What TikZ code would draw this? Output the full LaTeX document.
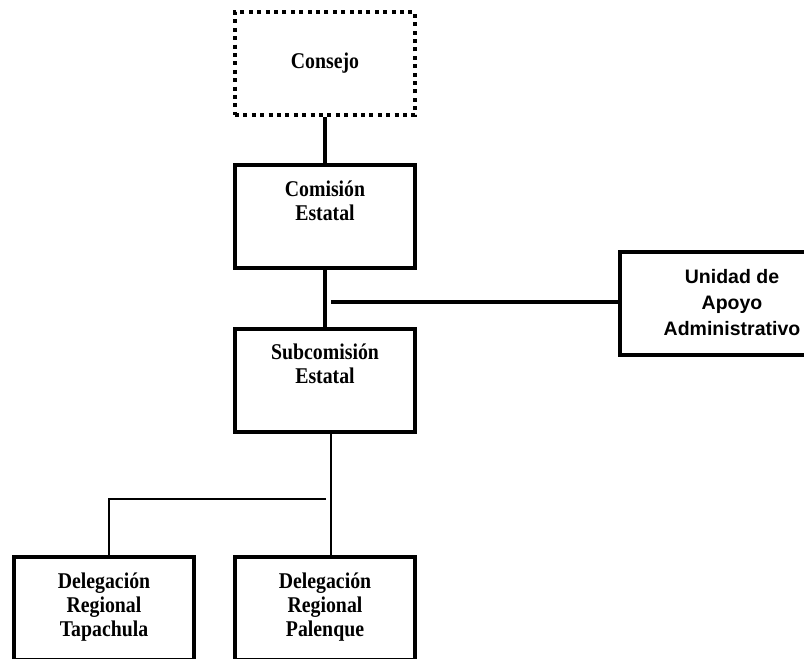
\documentclass[tikz,border=0pt]{standalone}
\usepackage{fontspec}
\setmainfont{Liberation Serif}[FakeStretch=0.88]
\newfontfamily\arialfont{Liberation Sans}
\newcommand{\toptext}[2][180pt]{\parbox[c][103pt][t]{#1}{\centering\rule{0pt}{31pt}#2}}
\begin{document}
\begin{tikzpicture}[x=1pt,y=-1pt,
  orgbox/.style={draw=black,line width=4pt,inner sep=0pt,fill=white,
    font=\fontsize{22.5}{24}\selectfont\bfseries},
  dotbox/.style={orgbox,dash pattern=on 4pt off 4.4pt,minimum width=180pt,minimum height=103pt},
  sansbox/.style={orgbox,font=\arialfont\fontsize{19.5}{26}\selectfont\bfseries},
  thickline/.style={line width=4pt},
  thinline/.style={line width=1.6pt}]
\path[use as bounding box,clip] (0,0) rectangle (804,659);
\fill[white] (0,0) rectangle (804,659);

\node[dotbox] (con) at (325,63.5) {\raisebox{-2pt}{Consejo}};
\node[orgbox] (com) at (325,216.5) {\toptext{Comisión\\Estatal}};
\node[orgbox] (sub) at (325,380) {\toptext{Subcomisión\\Estatal}};
\node[sansbox] (uni) at (732,303.5) {\toptext[224pt]{Unidad de\\Apoyo\\Administrativo}};
\node[orgbox] (tap) at (104,608.5) {\toptext{Delegación\\Regional\\Tapachula}};
\node[orgbox] (pal) at (325,608.5) {\toptext{Delegación\\Regional\\Palenque}};

\draw[thickline] (con.south) -- (com.north);
\draw[thickline] (com.south) -- (sub.north);
\coordinate (hj) at (331,302);
\draw[thickline] (hj) -- (hj -| uni.west);

\coordinate (vj) at (331,499);
\draw[thinline] (vj |- sub.south) -- (vj |- pal.north);
\coordinate (mj) at (326,499);
\coordinate (lj) at (109,499);
\draw[thinline] (mj) -- (lj) -- (lj |- tap.north);
\end{tikzpicture}
\end{document}
